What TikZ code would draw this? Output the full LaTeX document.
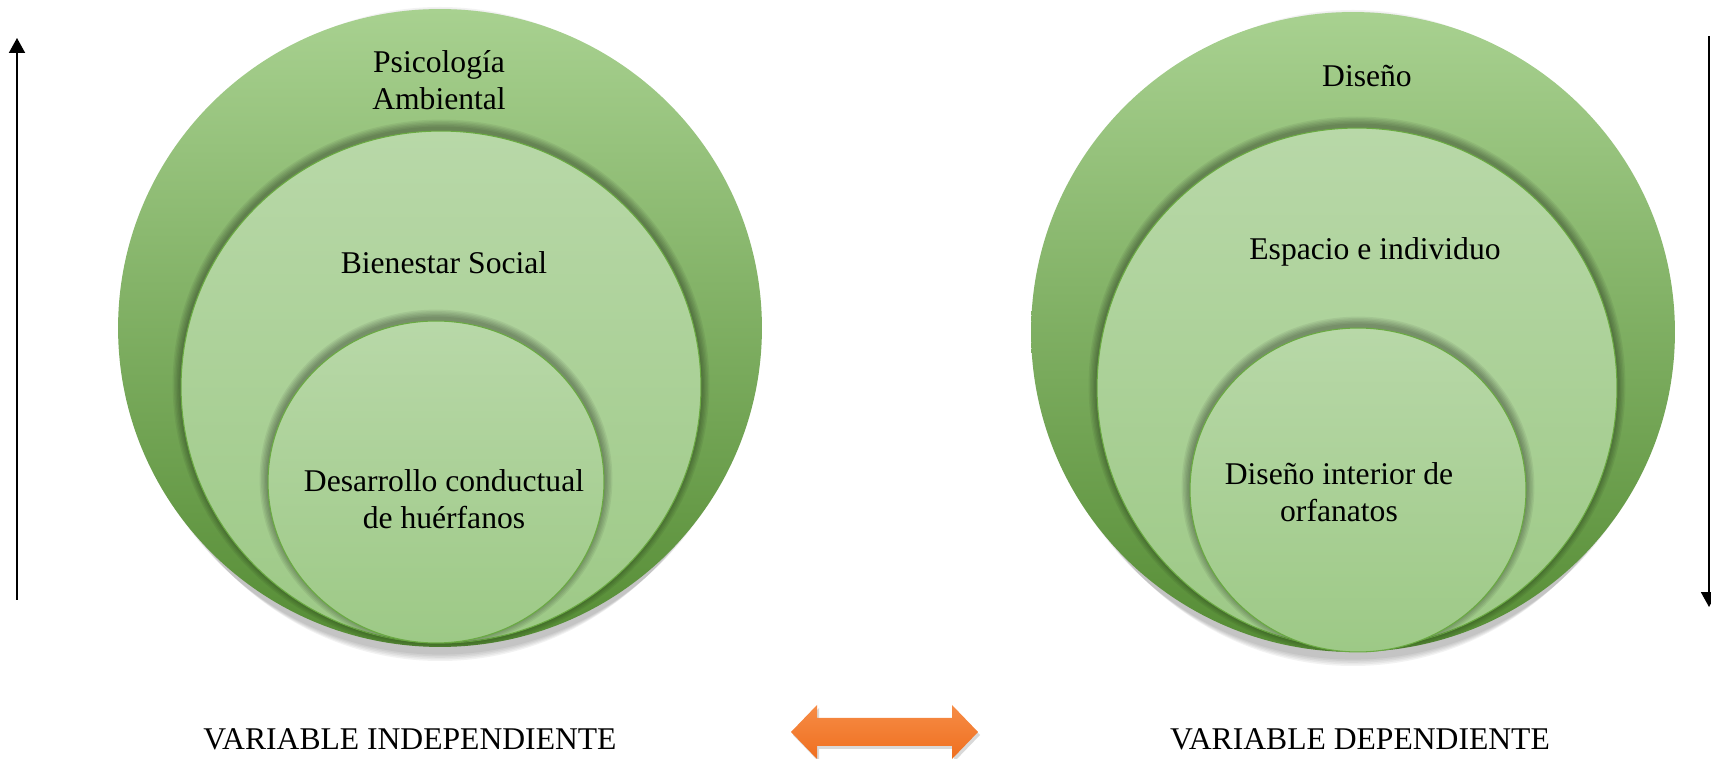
\documentclass[tikz,border=0pt]{standalone}
\usepackage{fontspec}
\setmainfont{Liberation Serif}
\usetikzlibrary{shapes.geometric,arrows.meta,positioning}

\definecolor{verdeclaro}{HTML}{A8D190}
\definecolor{verdemedio}{HTML}{77B24A}
\definecolor{verdeoscuro}{HTML}{558C34}
\definecolor{verdepalo}{HTML}{B8D8A8}
\definecolor{verdepalo2}{HTML}{9DC986}
\definecolor{bordeverde}{HTML}{6AAA42}
\definecolor{naranja}{HTML}{F68C46}
\definecolor{naranja2}{HTML}{EF6F1F}

\tikzset{
  anillo/.style={ellipse, inner sep=0pt, top color=verdeclaro,
    middle color=verdemedio, bottom color=verdeoscuro},
  nivel/.style={ellipse, inner sep=0pt, draw=bordeverde, line width=0.6pt,
    top color=verdepalo, bottom color=verdepalo2},
  etiqueta/.style={font=\fontsize{18}{21}\selectfont, align=center, inner sep=0pt},
}

% soft dark glow above a nested ellipse: x, y, rx, ry (px)
\newcommand{\halo}[4]{%
  \foreach \s in {1,...,6}
    \fill[black, opacity=0.06] (#1,#2-3)
      ellipse [x radius={(#3+1.4*\s)*0.02cm}, y radius={(#4+1.4*\s)*0.02cm}];
}

\begin{document}
\begin{tikzpicture}[x=0.02cm, y=-0.02cm, >={Triangle[width=0.32cm, length=0.3cm]}]
\useasboundingbox (0,0) rectangle (1711,759);

% drop shadows under the big rings
\foreach \s in {1,...,5} {
  \fill[black, opacity=0.05] (440,334) ellipse [x radius={(318-2*\s)*0.02cm}, y radius={(319+1.6*\s)*0.02cm}];
  \fill[black, opacity=0.05] (1353,338) ellipse [x radius={(318-2*\s)*0.02cm}, y radius={(320+1.6*\s)*0.02cm}];
}

% independent variable
\node [anillo, minimum width=12.88cm, minimum height=12.76cm] (psico) at (440,328) {};
\begin{scope}
  \clip (440,328) ellipse [x radius=6.44cm, y radius=6.38cm];
  \halo{441}{387}{260}{256}
\end{scope}
\node [nivel, minimum width=10.4cm, minimum height=10.24cm] (bienestar) at (441,387) {};
\begin{scope}
  \clip (441,387) ellipse [x radius=5.2cm, y radius=5.12cm];
  \halo{436}{482}{168}{161}
\end{scope}
\node [nivel, minimum width=6.72cm, minimum height=6.44cm] (desarrollo) at (436,482) {};

\node [etiqueta] (tpsico) at (439,80) {Psicología\\Ambiental};
\node [etiqueta] (tbienestar) at (444,263) {Bienestar Social};
\node [etiqueta] (tdesarrollo) at (444,499) {Desarrollo conductual\\de huérfanos};

% dependent variable
\node [anillo, minimum width=12.88cm, minimum height=12.8cm] (diseno) at (1353,332) {};
\begin{scope}
  \clip (1353,332) ellipse [x radius=6.44cm, y radius=6.4cm];
  \halo{1357}{388}{260}{260}
\end{scope}
\node [nivel, minimum width=10.4cm, minimum height=10.4cm] (espacio) at (1357,388) {};
\begin{scope}
  \clip (1357,388) ellipse [x radius=5.2cm, y radius=5.2cm];
  \halo{1358}{490}{168}{162}
\end{scope}
\node [nivel, minimum width=6.72cm, minimum height=6.48cm] (interior) at (1358,490) {};

\node [etiqueta] (tdiseno) at (1367,76) {Diseño};
\node [etiqueta] (tespacio) at (1375,252) {Espacio e individuo};
\node [etiqueta] (tinterior) at (1339,492) {Diseño interior de\\orfanatos};

% side arrows
\coordinate (lbot) at (17,600);
\coordinate (ltop) at (17,38);
\draw [->, line width=1.1pt] (lbot) -- (ltop);
\coordinate (rtop) at (1709,36);
\coordinate (rbot) at (1709,607);
\draw [->, line width=1.1pt] (rtop) -- (rbot);

% bottom labels and link
\node [etiqueta, anchor=base] (vind) at (410,749) {VARIABLE INDEPENDIENTE};
\node [etiqueta, anchor=base] (vdep) at (1360,749) {VARIABLE DEPENDIENTE};
\fill [black, opacity=0.15] (793,735) -- (819,708) -- (819,721) -- (954,721) -- (954,708)
  -- (980,735) -- (954,762) -- (954,749) -- (819,749) -- (819,762) -- cycle;
\path [top color=naranja, bottom color=naranja2] (791,732) -- (817,705) -- (817,718)
  -- (952,718) -- (952,705) -- (978,732) -- (952,759) -- (952,746) -- (817,746)
  -- (817,759) -- cycle;
\end{tikzpicture}
\end{document}
